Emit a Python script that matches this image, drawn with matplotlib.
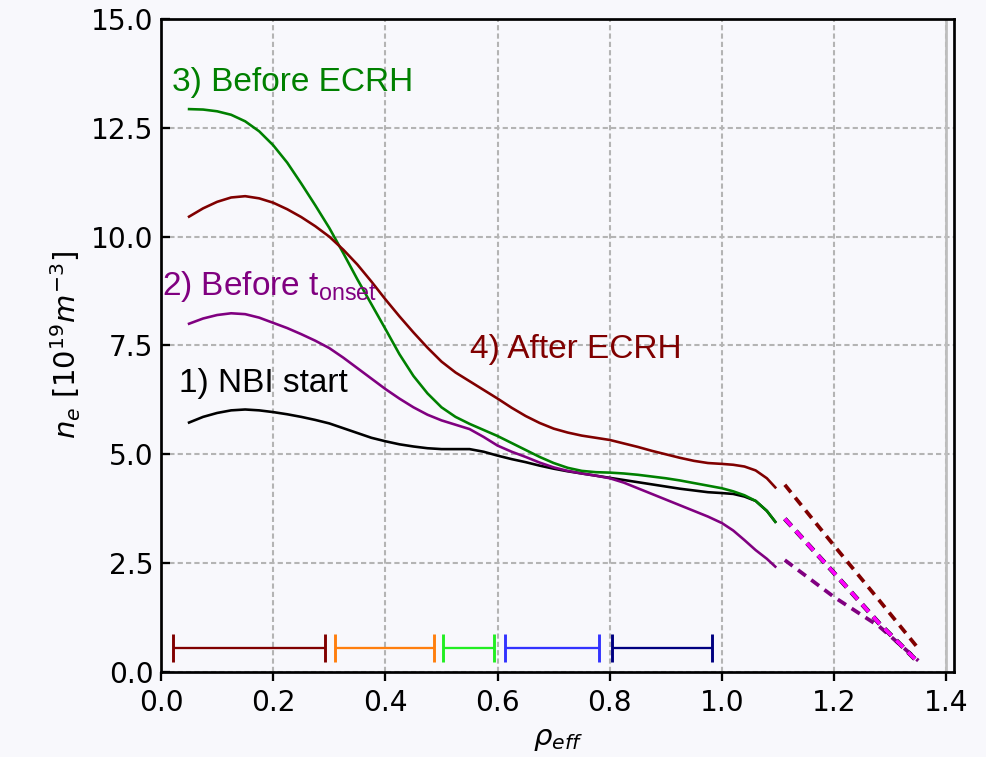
import matplotlib
matplotlib.use("Agg")
import matplotlib.pyplot as plt

# radial grid of the fitted profiles (core region)
rho = [0.05, 0.075, 0.1, 0.125, 0.15, 0.175, 0.2, 0.225, 0.25, 0.275, 0.3, 0.325,
       0.35, 0.375, 0.4, 0.425, 0.45, 0.475, 0.5, 0.525, 0.55, 0.575, 0.6, 0.625,
       0.65, 0.675, 0.7, 0.725, 0.75, 0.775, 0.8, 0.825, 0.85, 0.875, 0.9, 0.925,
       0.95, 0.975, 1.0, 1.02, 1.04, 1.06, 1.08, 1.095]

ne_nbi = [5.73, 5.86, 5.95, 6.01, 6.03, 6.01, 5.97, 5.92, 5.86, 5.79, 5.71, 5.60,
          5.49, 5.38, 5.30, 5.23, 5.18, 5.14, 5.12, 5.12, 5.12, 5.06, 4.97, 4.89,
          4.82, 4.74, 4.67, 4.61, 4.56, 4.51, 4.46, 4.41, 4.36, 4.31, 4.26, 4.21,
          4.17, 4.13, 4.11, 4.09, 4.03, 3.93, 3.70, 3.45]
ne_onset = [8.00, 8.12, 8.20, 8.24, 8.22, 8.14, 8.02, 7.90, 7.76, 7.61, 7.44, 7.22,
            6.98, 6.74, 6.50, 6.28, 6.08, 5.91, 5.78, 5.68, 5.58, 5.40, 5.20, 5.06,
            4.94, 4.81, 4.70, 4.62, 4.56, 4.51, 4.45, 4.35, 4.22, 4.09, 3.96, 3.83,
            3.70, 3.57, 3.42, 3.25, 3.03, 2.80, 2.60, 2.42]
ne_before = [12.93, 12.92, 12.88, 12.80, 12.65, 12.42, 12.10, 11.70, 11.22, 10.72, 10.20, 9.62,
             9.02, 8.45, 7.88, 7.30, 6.80, 6.40, 6.08, 5.86, 5.70, 5.56, 5.42, 5.26,
             5.10, 4.94, 4.80, 4.69, 4.62, 4.59, 4.58, 4.56, 4.53, 4.49, 4.45, 4.40,
             4.34, 4.28, 4.22, 4.15, 4.06, 3.93, 3.70, 3.45]
ne_after = [10.46, 10.65, 10.80, 10.90, 10.93, 10.88, 10.78, 10.63, 10.45, 10.24, 10.00, 9.70,
            9.36, 8.97, 8.56, 8.17, 7.80, 7.45, 7.13, 6.88, 6.68, 6.48, 6.28, 6.07,
            5.88, 5.72, 5.59, 5.50, 5.43, 5.38, 5.33, 5.25, 5.17, 5.08, 5.00, 4.92,
            4.85, 4.80, 4.78, 4.76, 4.72, 4.63, 4.45, 4.24]

# edge extrapolation (SOL)
rho_edge = [1.112, 1.2, 1.28, 1.35]
edge_after = [4.30, 2.90, 1.65, 0.54]
edge_fit = [3.52, 2.27, 1.12, 0.22]
edge_onset = [2.57, 1.72, 1.05, 0.26]

# radial ranges of the channels
range_lo = [0.022, 0.311, 0.503, 0.614, 0.804]
range_hi = [0.293, 0.487, 0.593, 0.781, 0.983]
range_col = ["#800000", "#ff7f0e", "#22ee22", "#3333ff", "#000080"]
range_y = 0.55

bg = "#f8f8fc"
fig = plt.figure(figsize=(986 / 150, 757 / 150), dpi=150, facecolor=bg)
ax = fig.add_axes([0.1633, 0.1123, 0.8042, 0.8626], facecolor=bg)

ax.grid(True, color="#b4b4b4", linestyle=(0, (2.5, 1.5)), linewidth=1.0)
ax.set_axisbelow(True)
ax.axvline(1.4, color="#bdbdbd", lw=1.3, zorder=1)

ax.plot(rho, ne_nbi, color="black", lw=1.25)
ax.plot(rho, ne_onset, color="purple", lw=1.25)
ax.plot(rho, ne_before, color="green", lw=1.25)
ax.plot(rho, ne_after, color="#800000", lw=1.25)

dash = (0, (2.6, 1.8))
ax.plot(rho_edge, edge_after, color="#800000", lw=1.8, ls=dash)
ax.plot(rho_edge, edge_onset, color="purple", lw=1.8, ls=dash)
ax.plot(rho_edge, edge_fit, color="black", lw=2.2, ls=(0, (2.6 * 1.8 / 2.2, 1.8 * 1.8 / 2.2)))
ax.plot(rho_edge, edge_fit, color="magenta", lw=1.8, ls=dash)

for lo, hi, c in zip(range_lo, range_hi, range_col):
    ax.errorbar((lo + hi) / 2, range_y, xerr=(hi - lo) / 2, color=c,
                elinewidth=1.1, capsize=6.5, capthick=1.4)

tfont = "Liberation Sans"
ax.text(0.02, 13.55, "3) Before ECRH", color="green", fontsize=16,
        family=tfont, va="center")
ax.text(0.002, 8.85, r"2) Before t$_\mathregular{onset}$", color="purple",
        fontsize=16, family=tfont, va="center")
ax.text(0.032, 6.62, "1) NBI start", color="black", fontsize=16,
        family=tfont, va="center")
ax.text(0.551, 7.40, "4) After ECRH", color="#800000", fontsize=16,
        family=tfont, va="center")

ax.set_xlim(0, 1.4135)
ax.set_ylim(0, 15)
ax.set_xticks([0.0, 0.2, 0.4, 0.6, 0.8, 1.0, 1.2, 1.4])
ax.set_yticks([0.0, 2.5, 5.0, 7.5, 10.0, 12.5, 15.0])
ax.tick_params(axis="both", labelsize=13.5)
ax.tick_params(axis="x", direction="out", length=4.5, width=1.1)
ax.tick_params(axis="y", direction="in", length=4.5, width=1.1)
for s in ax.spines.values():
    s.set_linewidth(1.3)

ax.set_xlabel(r"$\rho_{eff}$", fontsize=14)
ax.set_ylabel(r"$n_e$ [$10^{19} m^{-3}$]", fontsize=14)

fig.savefig("out.png", dpi=150, facecolor=bg)
